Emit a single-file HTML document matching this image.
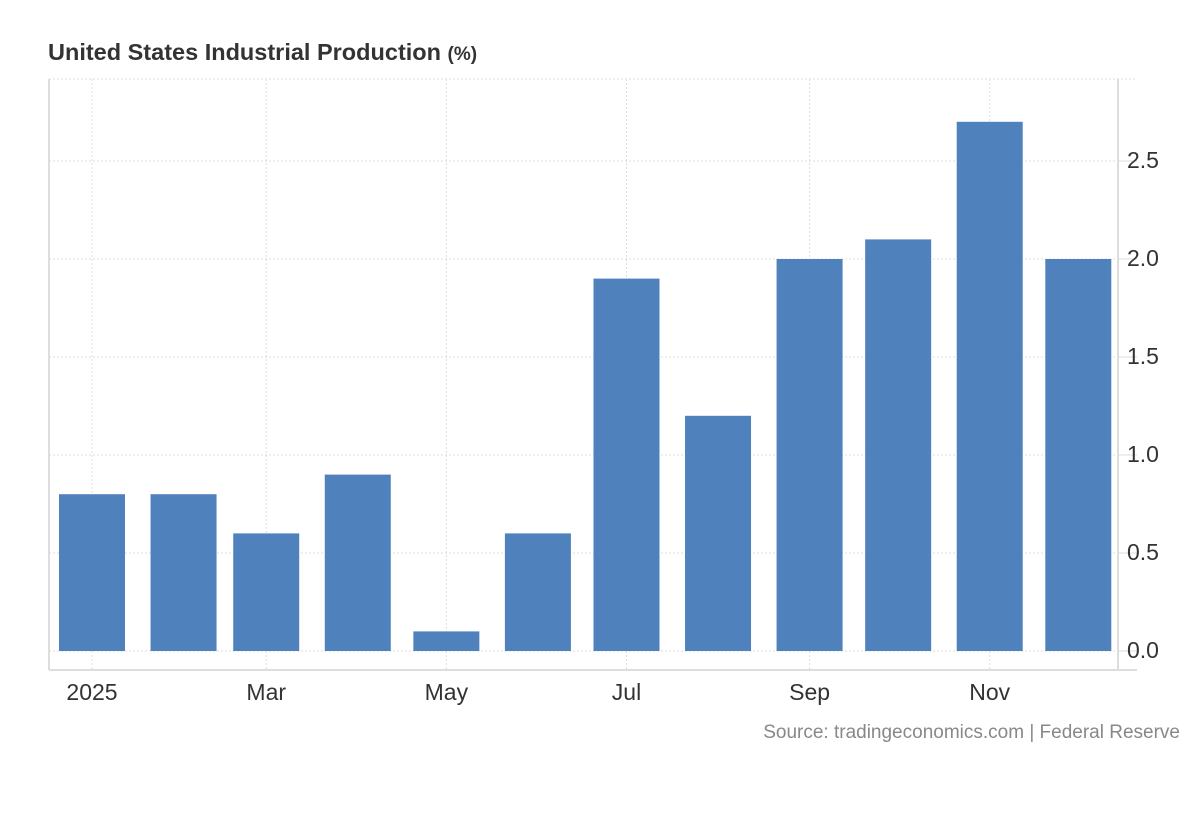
<!DOCTYPE html>
<html><head><meta charset="utf-8"><style>
body{margin:0;background:#fff;width:1200px;height:820px;overflow:hidden;font-family:"Liberation Sans",Arial,sans-serif}
</style></head><body>
<svg id="chart" width="1200" height="820" xmlns="http://www.w3.org/2000/svg" font-family="Liberation Sans, Arial, sans-serif">
<text x="48" y="60" font-size="23.5" font-weight="bold" fill="#333">United States Industrial Production <tspan font-size="19">(%)</tspan></text>
<g id="grid"></g><g id="bars"></g><g id="axes"></g>
<text x="1180" y="738" font-size="19" fill="#888" text-anchor="end">Source: tradingeconomics.com | Federal Reserve</text>
</svg>
<script>
const months=["Jan","Feb","Mar","Apr","May","Jun","Jul","Aug","Sep","Oct","Nov","Dec"];
const dayOffsets=[0,31,59,90,120,151,181,212,243,273,304,334];
const values=[0.8,0.8,0.6,0.9,0.1,0.6,1.9,1.2,2.0,2.1,2.7,2.0];
const yTicks=[0,0.5,1.0,1.5,2.0,2.5];
const yTickLabels=["0.0","0.5","1.0","1.5","2.0","2.5"];
const xTickIdx=[0,2,4,6,8,10];
const xTickLabels=["2025","Mar","May","Jul","Sep","Nov"];
const NS="http://www.w3.org/2000/svg";
const x=d=>92+d*2.953;
const y=v=>651-v*196;
function mk(tag,attrs,parent){const e=document.createElementNS(NS,tag);for(const k in attrs)e.setAttribute(k,attrs[k]);parent.appendChild(e);return e;}
const grid=document.getElementById('grid'),bars=document.getElementById('bars'),axes=document.getElementById('axes');
let tl=mk('line',{x1:49,x2:1137,y1:79,y2:79,stroke:'#ddd','stroke-dasharray':'2,2'},grid);


yTicks.forEach((v,i)=>{
  const g=mk('line',{x1:49,x2:1118,y1:y(v),y2:y(v),stroke:'#ddd','stroke-dasharray':'2,2'},grid);
  
  
  const tk=mk('line',{x1:1118,x2:1137,y1:y(v),y2:y(v),stroke:'#ddd'},grid);
  
  
  const t=mk('text',{x:1127,y:y(v)+7,'font-size':23,fill:'#333'},axes);
  t.textContent=yTickLabels[i];
  
  
});
xTickIdx.forEach((m,i)=>{
  const g=mk('line',{x1:x(dayOffsets[m]),x2:x(dayOffsets[m]),y1:79,y2:670,stroke:'#ddd','stroke-dasharray':'2,2'},grid);
  
  
  const t=mk('text',{x:x(dayOffsets[m]),y:700,'font-size':23,fill:'#333','text-anchor':'middle'},axes);
  t.textContent=xTickLabels[i];
  
  
});
values.forEach((v,i)=>{
  const cx=x(dayOffsets[i]);
  const r=mk('rect',{x:cx-33,y:y(v),width:66,height:y(0)-y(v),fill:'#4f81bd'},bars);
  
  
});
const l1=mk('line',{x1:49,x2:49,y1:79,y2:670,stroke:'#ddd','stroke-width':2},axes);


const l2=mk('line',{x1:1118,x2:1118,y1:79,y2:670,stroke:'#ddd','stroke-width':2},axes);


const l3=mk('line',{x1:49,x2:1137,y1:670,y2:670,stroke:'#ddd','stroke-width':2},axes);


</script>
</body></html>
